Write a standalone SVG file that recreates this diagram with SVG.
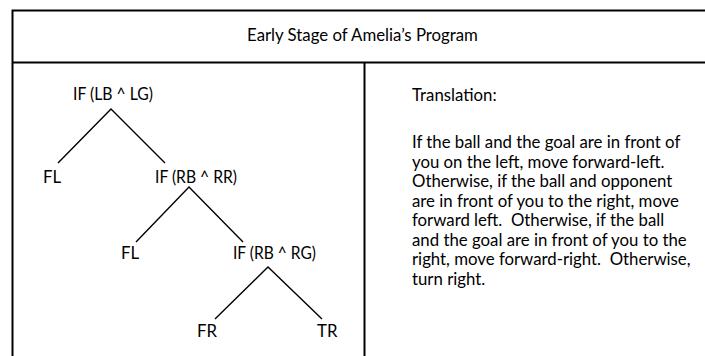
<svg xmlns="http://www.w3.org/2000/svg" width="705" height="356" viewBox="0 0 705 356">
<style>
text{font-family:Lato,"Open Sans","Liberation Sans",sans-serif;font-size:16.8px;fill:#000;white-space:pre}
.frame{stroke:#000;stroke-width:2;fill:none}
.edge{stroke:#000;stroke-width:1.4;fill:none}
</style>
<rect width="705" height="356" fill="#fff"/>
<g id="table">
<path class="frame" d="M12.5 356 V10.5 H705 M12.5 62.5 H705 M364.5 62.5 V356"/>
</g>
<g id="title"><text x="362.5" y="40.5" text-anchor="middle">Early Stage of Amelia’s Program</text></g>
<g id="connectors">
<path class="edge" d="M58 163 L111 109 L165 163"/>
<path class="edge" d="M136 242 L189 187 L243 242"/>
<path class="edge" d="M215 319 L268 267 L322 319"/>
</g>
<g id="n1"><text x="73" y="100" textLength="80" lengthAdjust="spacingAndGlyphs">IF (LB ^ LG)</text></g>
<g id="n2"><text x="43" y="183">FL</text></g>
<g id="n3"><text x="155" y="183" textLength="82" lengthAdjust="spacingAndGlyphs">IF (RB ^ RR)</text></g>
<g id="n4"><text x="121" y="259">FL</text></g>
<g id="n5"><text x="233" y="259" textLength="83" lengthAdjust="spacingAndGlyphs">IF (RB ^ RG)</text></g>
<g id="n6"><text x="197" y="337">FR</text></g>
<g id="n7"><text x="317" y="337">TR</text></g>
<g id="translation">
<text x="412" y="100.5">Translation:</text>
<text x="412" y="148">If the ball and the goal are in front of</text>
<text x="412" y="167.5">you on the left, move forward-left.</text>
<text x="412" y="187">Otherwise, if the ball and opponent</text>
<text x="412" y="206.5">are in front of you to the right, move</text>
<text x="412" y="226">forward left.  Otherwise, if the ball</text>
<text x="412" y="245.5">and the goal are in front of you to the</text>
<text x="412" y="265">right, move forward-right.  Otherwise,</text>
<text x="412" y="284.5">turn right.</text>
</g>
</svg>
